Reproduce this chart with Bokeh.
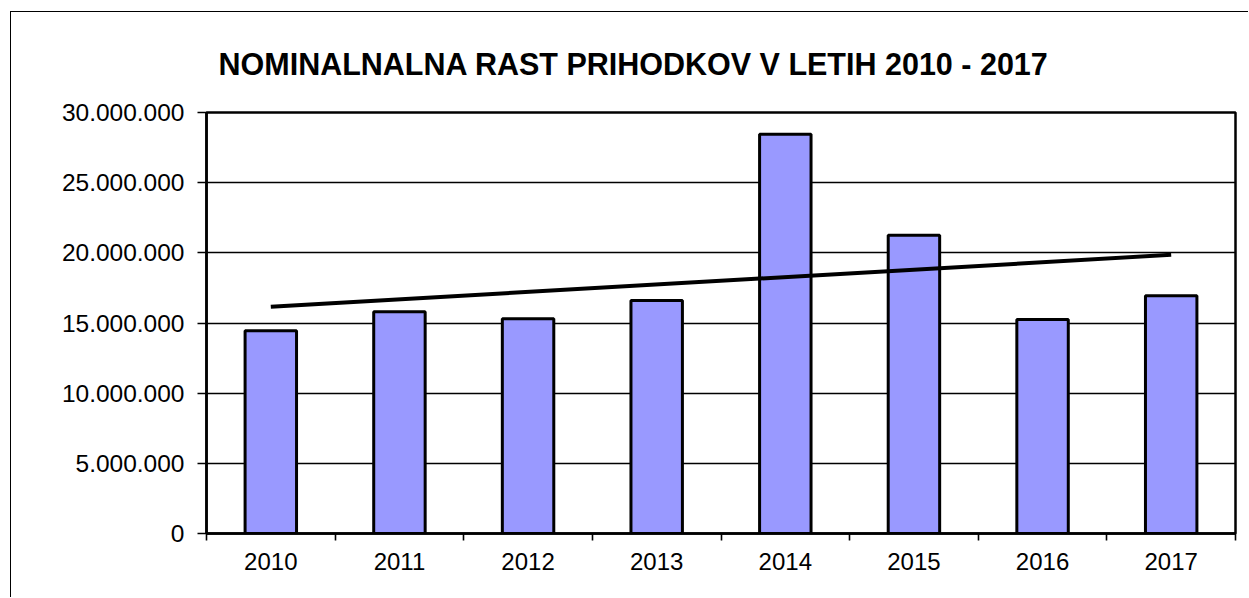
import numpy as np
from bokeh.plotting import figure
from bokeh.models import FixedTicker, CustomJSTickFormatter, ColumnDataSource
from bokeh.embed import file_html
from bokeh.resources import INLINE

# ---- data ----
years = ["2010", "2011", "2012", "2013", "2014", "2015", "2016", "2017"]
revenue = [14450000, 15800000, 15300000, 16600000, 28450000, 21250000, 15250000, 16950000]
y_ticks = [0, 5000000, 10000000, 15000000, 20000000, 25000000, 30000000]
title_text = "NOMINALNALNA RAST PRIHODKOV V LETIH 2010 - 2017"

FONT = "Liberation Sans"

xpos = [i + 0.5 for i in range(len(years))]
src = ColumnDataSource(dict(x=xpos, top=revenue, year=years))

p = figure(width=1238, height=586, output_backend="svg", toolbar_location=None,
           x_range=(0, len(years)), y_range=(0, 30000000),
           min_border_left=195, min_border_right=14, min_border_top=100, min_border_bottom=65,
           background_fill_color="white", border_fill_color="white")
p.styles = {"margin-left": "10px", "margin-top": "11px",
            "border-left": "1px solid black", "border-top": "1px solid black"}

# title
p.title.text = title_text
p.title.text_font = FONT
p.title.text_font_style = "bold"
p.title.text_font_size = "30.5px"
p.title.text_color = "black"
p.title.align = "left"
p.title.offset = 12
p.title.standoff = 63

# frame outline
p.outline_line_color = "black"
p.outline_line_width = 2.5
p.outline_line_alpha = 1

# grid
p.xgrid.visible = False
p.ygrid.grid_line_color = "black"
p.ygrid.grid_line_width = 1.6

# y axis
p.yaxis.ticker = FixedTicker(ticks=y_ticks)
p.yaxis.formatter = CustomJSTickFormatter(code="""
return Math.round(tick).toString().replace(/\\B(?=(\\d{3})+(?!\\d))/g, '.');
""")
p.yaxis.axis_line_width = 2.5
p.yaxis.axis_line_color = "black"
p.yaxis.major_tick_in = 0
p.yaxis.major_tick_out = 9
p.yaxis.major_tick_line_width = 1.6
p.yaxis.minor_tick_line_color = None
p.yaxis.major_label_text_font = FONT
p.yaxis.major_label_text_font_size = "24.5px"
p.yaxis.major_label_text_color = "black"
p.yaxis.major_label_standoff = 13

# x axis: labels at centers, ticks at boundaries
p.xaxis.ticker = FixedTicker(ticks=xpos, minor_ticks=list(range(len(years) + 1)))
p.xaxis.major_label_overrides = {x: y for x, y in zip(xpos, years)}
p.xaxis.axis_line_width = 2.5
p.xaxis.axis_line_color = "black"
p.xaxis.major_tick_line_color = None
p.xaxis.major_tick_in = 0
p.xaxis.major_tick_out = 7
p.xaxis.minor_tick_in = 0
p.xaxis.minor_tick_out = 7
p.xaxis.minor_tick_line_width = 1.6
p.xaxis.minor_tick_line_color = "black"
p.xaxis.major_label_text_font = FONT
p.xaxis.major_label_text_font_size = "24px"
p.xaxis.major_label_text_color = "black"
p.xaxis.major_label_standoff = 12

# bars
p.vbar(x="x", top="top", width=0.4, source=src, fill_color="#9999FF",
       line_color="black", line_width=3)

# linear trend line
coef = np.polyfit(np.arange(len(years)), np.array(revenue, dtype=float), 1)
tx = [xpos[0], xpos[-1]]
ty = [coef[1] + coef[0] * 0, coef[1] + coef[0] * (len(years) - 1)]
p.line(tx, ty, line_color="black", line_width=4)

open("out.html", "w").write(file_html(p, INLINE))
